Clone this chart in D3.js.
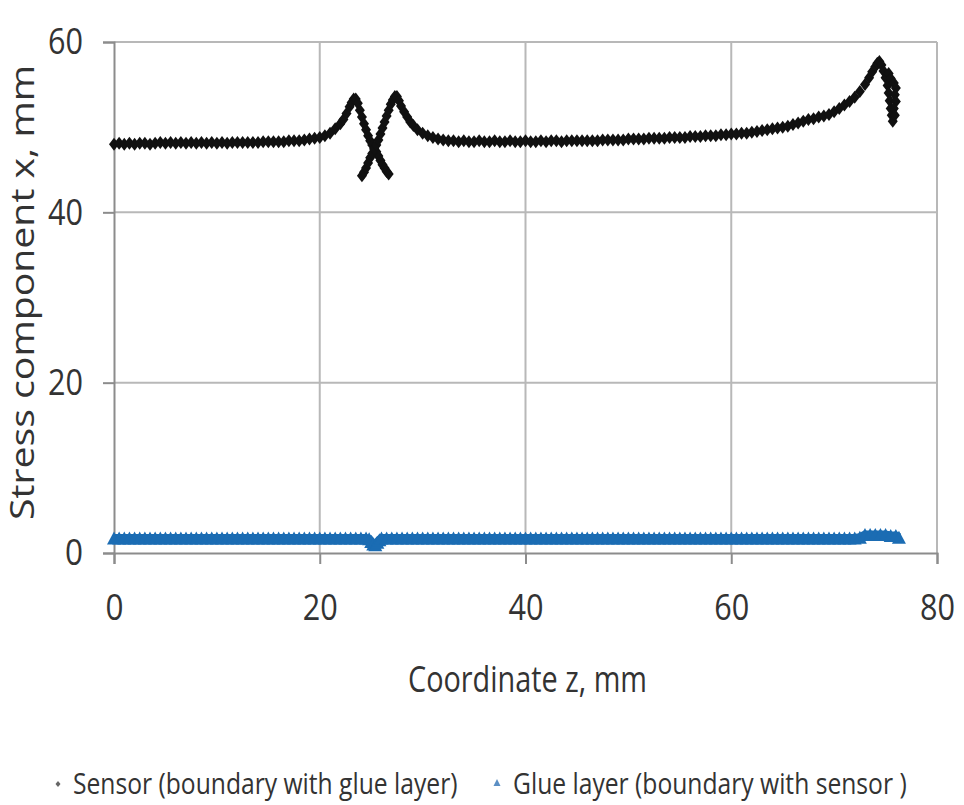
<!DOCTYPE html>
<html>
<head>
<meta charset="utf-8">
<script src="https://cdn.jsdelivr.net/npm/d3@7"></script>
<style>
  body { margin: 0; background: #fff; }
  text { font-family: "Open Sans", "DejaVu Sans", sans-serif; fill: #333; }
</style>
</head>
<body>
<div class="canva"></div>
<script>
// ---- data ----
const xTicks = [0, 20, 40, 60, 80];
const yTicks = [0, 20, 40, 60];
const seriesNames = ["Sensor (boundary with glue layer)", "Glue layer (boundary with sensor )"];

// sensor boundary: [z, stress]
const sensorPoints = [
  [0,48.0],[0.5,48.1],[1,48.0],[1.5,48.1],[2,48.0],[2.5,48.1],[3,48.1],[3.5,48.0],[4,48.1],[4.5,48.2],
  [5,48.1],[5.5,48.2],[6,48.1],[6.5,48.2],[7,48.1],[7.5,48.2],[8,48.1],[8.5,48.2],[9,48.1],[9.5,48.2],
  [10,48.1],[10.5,48.2],[11,48.1],[11.5,48.2],[12,48.2],[12.5,48.2],[13,48.2],[13.5,48.2],[14,48.2],[14.5,48.3],
  [15,48.3],[15.5,48.3],[16,48.3],[16.5,48.3],[17,48.4],[17.5,48.4],[18,48.4],[18.5,48.5],[19,48.6],[19.5,48.7],
  [20,48.8],[20.5,49.0],[21,49.3],[21.5,49.8],[22,50.4],[22.3,50.9],[22.6,51.6],[22.9,52.4],[23.1,52.9],[23.3,53.3],
  [23.5,53.3],[23.7,52.8],[23.9,52.0],[24.1,51.2],[24.3,50.4],[24.5,49.7],[24.7,49.0],[24.9,48.4],[25.1,47.9],[25.3,47.5],
  [25.5,47.1],[25.7,46.6],[25.9,46.1],[26.1,45.6],[26.3,45.2],[26.5,44.8],[26.7,44.5],
  [24.1,44.3],[24.3,44.7],[24.5,45.2],[24.7,45.8],[24.9,46.4],[25.1,46.9],[25.3,47.4],[25.5,47.9],[25.7,48.5],[25.9,49.2],
  [26.1,49.9],[26.3,50.6],[26.5,51.3],[26.7,52.0],[26.9,52.7],[27.1,53.2],[27.3,53.6],[27.5,53.6],[27.7,53.1],[27.9,52.5],
  [28.2,51.8],[28.5,51.2],[28.8,50.6],[29.1,50.2],[29.5,49.7],[30,49.3],[30.5,49.0],[31,48.8],[31.5,48.6],[32,48.5],
  [32.5,48.4],[33,48.4],[33.5,48.3],[34,48.4],[34.5,48.3],[35,48.3],[35.5,48.4],[36,48.3],[36.5,48.3],[37,48.4],
  [37.5,48.3],[38,48.3],[38.5,48.4],[39,48.3],[39.5,48.3],[40,48.4],[40.5,48.3],[41,48.3],[41.5,48.4],[42,48.3],
  [42.5,48.4],[43,48.4],[43.5,48.3],[44,48.4],[44.5,48.4],[45,48.4],[45.5,48.4],[46,48.4],[46.5,48.4],[47,48.4],
  [47.5,48.5],[48,48.5],[48.5,48.5],[49,48.5],[49.5,48.5],[50,48.6],[50.5,48.6],[51,48.6],[51.5,48.6],[52,48.7],
  [52.5,48.7],[53,48.7],[53.5,48.7],[54,48.8],[54.5,48.8],[55,48.8],[55.5,48.8],[56,48.9],[56.5,48.9],[57,48.9],
  [57.5,49.0],[58,49.0],[58.5,49.0],[59,49.1],[59.5,49.1],[60,49.2],[60.5,49.2],[61,49.3],[61.5,49.3],[62,49.4],
  [62.5,49.5],[63,49.6],[63.5,49.7],[64,49.8],[64.5,49.9],[65,50.0],[65.5,50.1],[66,50.3],[66.5,50.5],[67,50.7],
  [67.5,50.9],[68,51.0],[68.5,51.2],[69,51.3],[69.5,51.5],[70,51.8],[70.5,52.2],[71,52.6],[71.5,53.0],[72,53.5],
  [72.5,54.2],[73,55.0],[73.4,55.8],[73.7,56.5],[74,57.1],[74.2,57.5],[74.4,57.7],[74.6,57.3],[74.8,56.6],[75,55.8],
  [75.2,54.9],[75.3,54.0],[75.4,53.1],[75.5,52.2],[75.6,51.4],[75.7,50.7],
  [75.3,56.3],[75.5,55.7],[75.8,55.2],[76,54.6],[75.9,53.8],[76,53.0],[75.8,52.2],[75.9,51.4]
];

// glue layer boundary: [z, stress]
const gluePoints = [
  [0,1.7],[0.5,1.7],[1,1.7],[1.5,1.7],[2,1.7],[2.5,1.7],[3,1.7],[3.5,1.7],[4,1.7],[4.5,1.7],
  [5,1.7],[5.5,1.7],[6,1.7],[6.5,1.7],[7,1.7],[7.5,1.7],[8,1.7],[8.5,1.7],[9,1.7],[9.5,1.7],
  [10,1.7],[10.5,1.7],[11,1.7],[11.5,1.7],[12,1.7],[12.5,1.7],[13,1.7],[13.5,1.7],[14,1.7],[14.5,1.7],
  [15,1.7],[15.5,1.7],[16,1.7],[16.5,1.7],[17,1.7],[17.5,1.7],[18,1.7],[18.5,1.7],[19,1.7],[19.5,1.7],
  [20,1.7],[20.5,1.7],[21,1.7],[21.5,1.7],[22,1.7],[22.5,1.7],[23,1.7],[23.5,1.7],[24,1.7],[24.5,1.7],
  [24.8,1.6],[25,1.3],[25.2,1.0],[25.4,0.9],[25.6,1.2],[25.8,1.5],[26,1.7],[26.5,1.7],[27,1.7],[27.5,1.7],
  [28,1.7],[28.5,1.7],[29,1.7],[29.5,1.7],[30,1.7],[30.5,1.7],[31,1.7],[31.5,1.7],[32,1.7],[32.5,1.7],
  [33,1.7],[33.5,1.7],[34,1.7],[34.5,1.7],[35,1.7],[35.5,1.7],[36,1.7],[36.5,1.7],[37,1.7],[37.5,1.7],
  [38,1.7],[38.5,1.7],[39,1.7],[39.5,1.7],[40,1.7],[40.5,1.7],[41,1.7],[41.5,1.7],[42,1.7],[42.5,1.7],
  [43,1.7],[43.5,1.7],[44,1.7],[44.5,1.7],[45,1.7],[45.5,1.7],[46,1.7],[46.5,1.7],[47,1.7],[47.5,1.7],
  [48,1.7],[48.5,1.7],[49,1.7],[49.5,1.7],[50,1.7],[50.5,1.7],[51,1.7],[51.5,1.7],[52,1.7],[52.5,1.7],
  [53,1.7],[53.5,1.7],[54,1.7],[54.5,1.7],[55,1.7],[55.5,1.7],[56,1.7],[56.5,1.7],[57,1.7],[57.5,1.7],
  [58,1.7],[58.5,1.7],[59,1.7],[59.5,1.7],[60,1.7],[60.5,1.7],[61,1.7],[61.5,1.7],[62,1.7],[62.5,1.7],
  [63,1.7],[63.5,1.7],[64,1.7],[64.5,1.7],[65,1.7],[65.5,1.7],[66,1.7],[66.5,1.7],[67,1.7],[67.5,1.7],
  [68,1.7],[68.5,1.7],[69,1.7],[69.5,1.7],[70,1.7],[70.5,1.7],[71,1.7],[71.5,1.7],[72,1.7],[72.5,1.8],
  [73,2.1],[73.5,2.1],[74,2.1],[74.5,2.1],[75,2.1],[75.5,2.0],[76,2.0],[76.3,1.8]
];

// ---- layout ----
const width = 964, height = 805;
const margin = {top: 42, right: 27, bottom: 252, left: 114};
const graphWidth = width - margin.left - margin.right;
const graphHeight = height - margin.top - margin.bottom;

const sensorColor = "#111111";
const glueColor = "#1b6cb3";
const gridColor = "#b8b8b8";
const axisColor = "#8c8c8c";

const svg = d3.select(".canva").append("svg")
  .attr("width", width)
  .attr("height", height);

const graph = svg.append("g")
  .attr("transform", `translate(${margin.left},${margin.top})`);

const x = d3.scaleLinear().domain([0, 80]).range([0, graphWidth]);
const y = d3.scaleLinear().domain([0, 60]).range([graphHeight, 0]);

// gridlines
graph.append("g")
  .selectAll("line.h")
  .data(yTicks.filter(d => d > 0))
  .enter().append("line")
  .attr("x1", 0).attr("x2", graphWidth)
  .attr("y1", d => y(d)).attr("y2", d => y(d))
  .attr("stroke", gridColor).attr("stroke-width", 2);

graph.append("g")
  .selectAll("line.v")
  .data(xTicks.filter(d => d > 0))
  .enter().append("line")
  .attr("y1", 0).attr("y2", graphHeight)
  .attr("x1", d => x(d)).attr("x2", d => x(d))
  .attr("stroke", gridColor).attr("stroke-width", 2);

// axes
const xAxis = d3.axisBottom(x).tickValues(xTicks).tickSize(11).tickPadding(26);
const yAxis = d3.axisLeft(y).tickValues(yTicks).tickSize(11).tickPadding(20);

const xAxisGroup = graph.append("g")
  .attr("transform", `translate(0,${graphHeight})`)
  .call(xAxis);
const yAxisGroup = graph.append("g").call(yAxis);

[xAxisGroup, yAxisGroup].forEach(g => {
  g.select(".domain").attr("stroke", axisColor).attr("stroke-width", 2);
  g.selectAll(".tick line").attr("stroke", axisColor).attr("stroke-width", 2);
  g.selectAll(".tick text")
    .attr("font-size", 37)
    .attr("font-family", "'Open Sans', sans-serif")
    .attr("fill", "#333")
    .attr("textLength", d => d === 0 ? 18 : 35)
    .attr("lengthAdjust", "spacingAndGlyphs");
});
xAxisGroup.selectAll(".tick text").attr("dy", "0.8em");

// markers (dense, so they merge into thick bands like in the original)
const diamond = "M0,-6.5L5,0L0,6.5L-5,0Z";
const triangle = "M0,-7L7,6L-7,6Z";

// the glue markers sit so close that they read as a solid band
const glueBand = d3.line().x(d => x(d[0])).y(d => y(d[1]));
graph.append("path")
  .datum(gluePoints)
  .attr("d", glueBand)
  .attr("fill", "none")
  .attr("stroke", glueColor)
  .attr("stroke-width", 9);

graph.append("g")
  .selectAll("path")
  .data(gluePoints)
  .enter().append("path")
  .attr("d", triangle)
  .attr("transform", d => `translate(${x(d[0])},${y(d[1])})`)
  .attr("fill", glueColor);

graph.append("g")
  .selectAll("path")
  .data(sensorPoints)
  .enter().append("path")
  .attr("d", diamond)
  .attr("transform", d => `translate(${x(d[0])},${y(d[1])})`)
  .attr("fill", sensorColor);

// axis titles
svg.append("text")
  .attr("x", 408).attr("y", 692)
  .attr("font-size", 36)
  .attr("textLength", 239)
  .attr("lengthAdjust", "spacingAndGlyphs")
  .text("Coordinate z, mm");

svg.append("text")
  .attr("transform", "translate(34,520) rotate(-90)")
  .attr("font-size", 32)
  .attr("textLength", 455)
  .attr("lengthAdjust", "spacingAndGlyphs")
  .text("Stress component x, mm");

// legend (narrow face in the original, so squeeze horizontally)
const legend = svg.append("g");
legend.append("path")
  .attr("d", "M0,-3L2.5,0L0,3L-2.5,0Z")
  .attr("transform", "translate(58,784)")
  .attr("fill", "#666");
legend.append("text")
  .attr("transform", "translate(73,794) scale(0.85,1)")
  .attr("font-size", 29)
  .text(seriesNames[0]);
legend.append("path")
  .attr("d", "M0,-4L3.5,3L-3.5,3Z")
  .attr("transform", "translate(497,783)")
  .attr("fill", "#5b8fc4");
legend.append("text")
  .attr("transform", "translate(513,794) scale(0.85,1)")
  .attr("font-size", 29)
  .text(seriesNames[1]);
</script>
</body>
</html>
